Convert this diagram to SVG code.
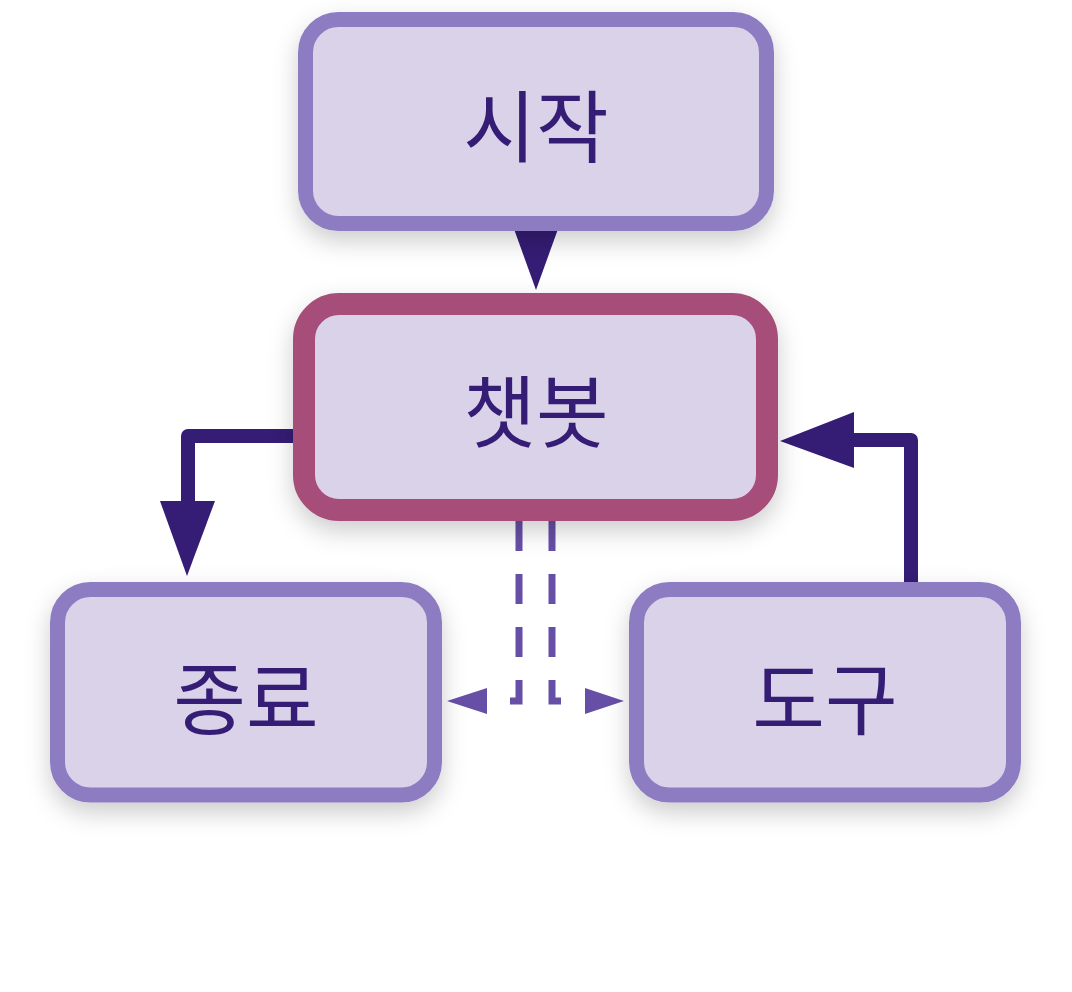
<svg xmlns="http://www.w3.org/2000/svg" width="1072" height="992" viewBox="0 0 1072 992">
  <defs>
    <filter id="shadow" x="-20%" y="-20%" width="140%" height="150%">
      <feDropShadow dx="0" dy="10" stdDeviation="12" flood-color="#000000" flood-opacity="0.2"/>
    </filter>
    <style>
      .box { fill: #d9d2e9; stroke: #8e7cc3; stroke-width: 15; }
      .hub { fill: #d9d2e9; stroke: #a64d79; stroke-width: 22; }
      .label { font-family: "Noto Sans CJK KR", "Noto Sans", sans-serif; font-size: 79px; fill: #351c75; text-anchor: middle; dominant-baseline: central; }
      .flow { fill: none; stroke: #351c75; stroke-width: 14; stroke-linejoin: round; }
      .head { fill: #351c75; }
      .dash { fill: none; stroke: #674ea7; stroke-width: 7; stroke-dasharray: 30 23; }
      .dhead { fill: #674ea7; }
    </style>
  </defs>
  <rect width="1072" height="992" fill="#ffffff"/>

  <g id="connectors">
    <polygon class="head" points="514,229 558,229 536,290"/>
    <path class="flow" d="M296,436 H188 V505"/>
    <polygon class="head" points="160,501 215,501 187,576"/>
    <path class="flow" d="M911,584 V440 H850"/>
    <polygon class="head" points="854,412 854,468 780,441"/>
    <path class="dash" d="M519,521 V701 H488"/>
    <polygon class="dhead" points="487,688 487,714 447,701"/>
    <path class="dash" d="M552,521 V701 H584"/>
    <polygon class="dhead" points="585,688 585,714 624,701"/>
  </g>

  <g id="start">
    <rect class="box" x="305.5" y="19.5" width="461" height="204" rx="33" filter="url(#shadow)"/>
    <text class="label" x="536" y="122">시작</text>
  </g>
  <g id="chatbot">
    <rect class="hub" x="304" y="304" width="463" height="206" rx="35" filter="url(#shadow)"/>
    <text class="label" x="536" y="407">챗봇</text>
  </g>
  <g id="end">
    <rect class="box" x="57.5" y="589.5" width="377" height="205.5" rx="33" filter="url(#shadow)"/>
    <text class="label" x="246" y="694">종료</text>
  </g>
  <g id="tool">
    <rect class="box" x="636.5" y="589.5" width="377" height="205.5" rx="33" filter="url(#shadow)"/>
    <text class="label" x="825" y="694">도구</text>
  </g>
</svg>
